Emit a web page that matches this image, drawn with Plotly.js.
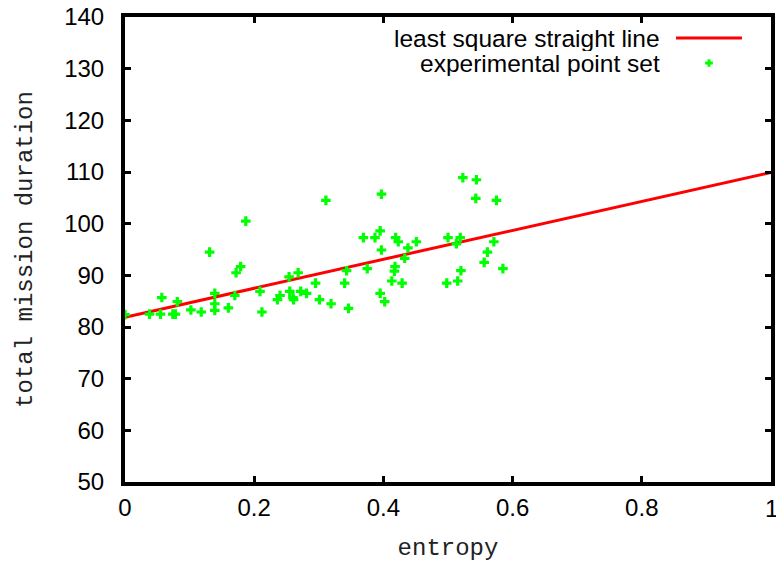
<!DOCTYPE html>
<html>
<head>
<meta charset="utf-8">
<script src="https://cdn.plot.ly/plotly-3.0.1.min.js"></script>
<style>html,body{margin:0;padding:0;background:#fff;}#chart{width:776px;height:562px;}</style>
</head>
<body>
<div id="chart"></div>
<script>
// least square straight line (endpoints)
var lineX = [0, 1];
var lineY = [81.9, 109.9];

// experimental point set
var entropy = [0.0, 0.038, 0.055, 0.057, 0.074, 0.078, 0.081, 0.102, 0.118, 0.131,
  0.139, 0.139, 0.139, 0.160, 0.170, 0.172, 0.179, 0.187, 0.209, 0.212,
  0.236, 0.240, 0.254, 0.255, 0.260, 0.261, 0.268, 0.272, 0.281, 0.295,
  0.301, 0.311, 0.319, 0.340, 0.343, 0.346, 0.369, 0.375, 0.387, 0.395,
  0.395, 0.397, 0.397, 0.402, 0.413, 0.417, 0.418, 0.419, 0.423, 0.429,
  0.433, 0.438, 0.451, 0.498, 0.500, 0.513, 0.515, 0.519, 0.520, 0.523,
  0.543, 0.544, 0.556, 0.561, 0.571, 0.575, 0.585];
var duration = [82.4, 82.5, 82.5, 85.7, 82.5, 82.5, 84.9, 83.3, 82.9, 94.5,
  86.5, 84.5, 83.2, 83.7, 86.1, 90.5, 91.7, 100.5, 86.9, 82.9,
  85.3, 86.1, 89.7, 86.9, 85.7, 85.3, 90.5, 86.9, 86.5, 88.5,
  85.3, 104.5, 84.5, 88.5, 90.9, 83.6, 97.3, 91.3, 97.3, 98.6,
  86.5, 105.7, 94.9, 84.9, 88.9, 90.8, 91.7, 97.3, 96.5, 88.5,
  93.3, 95.3, 96.5, 88.5, 97.3, 96.1, 88.9, 97.3, 90.9, 108.9,
  104.9, 108.5, 92.5, 94.5, 96.5, 104.5, 91.3];

var xTicks = [0, 0.2, 0.4, 0.6, 0.8, 1];
var xTickText = ['0', '0.2', '0.4', '0.6', '0.8', '1'];
var yTicks = [50, 60, 70, 80, 90, 100, 110, 120, 130, 140];

var legendLabels = ['least square straight line', 'experimental point set'];

var sansFont = 'Liberation Sans, Arial, sans-serif';
var tickFont = {family: sansFont, size: 24, color: '#000'};
var titleFont = {family: 'Liberation Mono, Courier New, monospace', size: 24, color: '#222'};
var legendFont = {family: sansFont, size: 24.5, color: '#000'};

var traces = [
  {x: lineX, y: lineY, mode: 'lines', type: 'scatter', name: legendLabels[0],
   line: {color: '#ff0000', width: 3}, showlegend: false, cliponaxis: true},
  {x: entropy, y: duration, mode: 'markers', type: 'scatter', name: legendLabels[1],
   marker: {symbol: 'cross', size: 8, color: '#00ff00', line: {width: 0}}, showlegend: false, cliponaxis: true}
];

var layout = {
  width: 776, height: 562,
  margin: {l: 125, r: 5, t: 17, b: 80},
  paper_bgcolor: '#fff', plot_bgcolor: '#fff',
  showlegend: false,
  xaxis: {
    range: [0, 1], tickvals: xTicks, ticktext: xTickText,
    ticks: 'inside', ticklen: 6, tickwidth: 3, tickcolor: '#000',
    showline: true, linewidth: 4, linecolor: '#000', mirror: 'ticks',
    showgrid: false, zeroline: false, tickfont: tickFont, ticklabelstandoff: 1,
    title: {text: 'entropy', font: titleFont, standoff: 19}
  },
  yaxis: {
    range: [50, 140], tickvals: yTicks,
    ticks: 'inside', ticklen: 6, tickwidth: 3, tickcolor: '#000',
    showline: true, linewidth: 4, linecolor: '#000', mirror: 'ticks',
    showgrid: false, zeroline: false, tickfont: tickFont, ticklabelstandoff: 12,
    title: {text: 'total mission duration', font: titleFont, standoff: 26}
  },
  annotations: [
    {xref: 'paper', yref: 'paper', x: 0.83, y: 0.954, xanchor: 'right', yanchor: 'middle', height: 25, borderpad: 0,
     text: legendLabels[0], showarrow: false, font: legendFont},
    {xref: 'paper', yref: 'paper', x: 0.83, y: 0.9, xanchor: 'right', yanchor: 'middle', height: 25, borderpad: 0,
     text: legendLabels[1], showarrow: false, font: legendFont},
    {xref: 'x', yref: 'paper', x: xTicks[5], y: 0, xanchor: 'center', yanchor: 'top', yshift: -11,
     text: xTickText[5], showarrow: false, font: tickFont}
  ],
  shapes: [
    {type: 'line', xref: 'paper', yref: 'paper', x0: 0.853, x1: 0.955, y0: 0.955, y1: 0.955,
     line: {color: '#ff0000', width: 3}},
    {type: 'line', xref: 'paper', yref: 'paper', x0: 0.904, x1: 0.904, y0: 0.893, y1: 0.909,
     line: {color: '#00ff00', width: 3}},
    {type: 'line', xref: 'paper', yref: 'paper', x0: 0.898, x1: 0.910, y0: 0.901, y1: 0.901,
     line: {color: '#00ff00', width: 3}}
  ]
};

Plotly.newPlot('chart', traces, layout, {displayModeBar: false, staticPlot: true});
</script>
</body>
</html>
